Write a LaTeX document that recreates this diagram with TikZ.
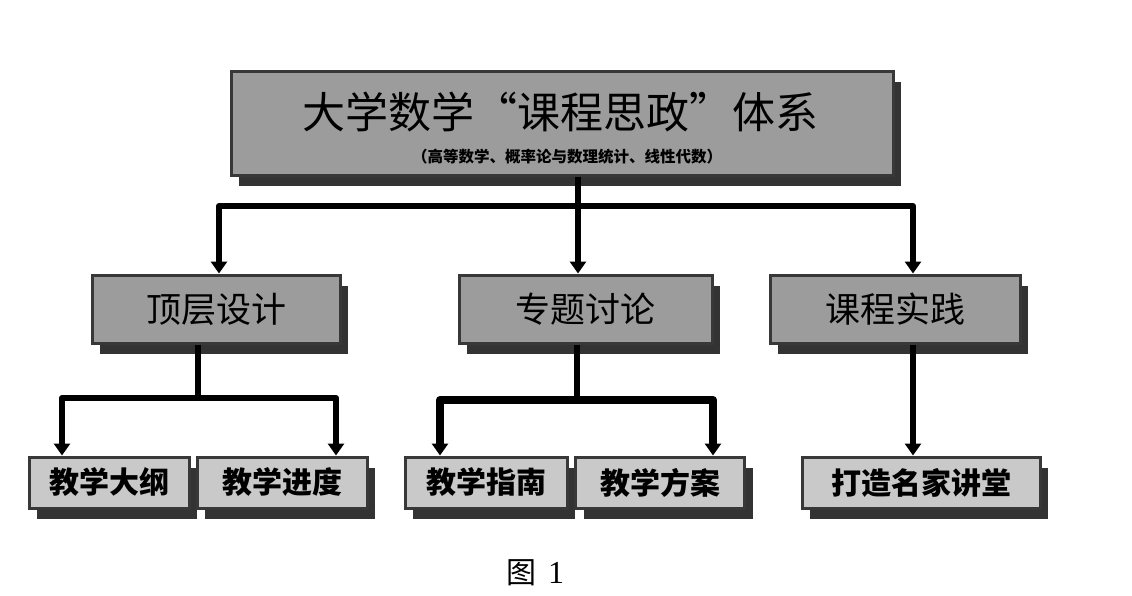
\documentclass[tikz,border=0pt]{standalone}
\usepackage{fontspec}
\setmainfont{Liberation Serif}
\newfontfamily\cjk{Noto Sans CJK SC}
\usetikzlibrary{arrows.meta,shadows}
\definecolor{bordc}{HTML}{383838}
\definecolor{shadc}{HTML}{333333}
\definecolor{fillA}{HTML}{9C9C9C}
\definecolor{fillB}{HTML}{C9C9C9}
\tikzset{
  boxbase/.style={draw=bordc, line width=3pt, inner sep=0pt, rectangle,
    drop shadow={shadow xshift=8pt, shadow yshift=-11pt, fill=shadc, opacity=1}},
  topbox/.style={boxbase, fill=fillA, minimum width=662pt, minimum height=104pt},
  midbox/.style={boxbase, fill=fillA, minimum width=250pt, minimum height=68pt,
    font=\cjk\fontsize{35}{38}\selectfont},
  lowbox/.style={boxbase, fill=fillB, minimum height=51pt,
    font=\cjk\bfseries\fontsize{30}{34}\selectfont},
  conn/.style={line width=6pt, black, line join=round},
  arr/.style={conn, -{Triangle[width=16pt,length=12pt]}},
  label/.style={inner sep=0pt}
}
\begin{document}
\begin{tikzpicture}[x=1pt,y=-1pt]
\useasboundingbox[fill=white] (0,0) rectangle (1132,595);
% top box
\node[topbox] (top) at (562,123) {};
\node[label, font=\cjk\fontsize{43}{45}\selectfont] (title) at (560,112) {大学数学“课程思政”体系};
\node[label, font=\cjk\bfseries\fontsize{15.5}{17}\selectfont] (sub) at (567,157) {（高等数学、概率论与数理统计、线性代数）};
% level 2
\node[midbox, minimum width=248pt] (l2a) at (216,309) {顶层设计};
\node[midbox, minimum width=253pt] (l2b) at (585.5,309) {专题讨论};
\node[midbox, minimum width=250pt] (l2c) at (895,309) {课程实践};
% level 3
\node[lowbox, minimum width=160pt] (l3a) at (109,482.5) {教学大纲};
\node[lowbox, minimum width=170pt] (l3b) at (282,482.5) {教学进度};
\node[lowbox, minimum width=162pt] (l3c) at (486,482.5) {教学指南};
\node[lowbox, minimum width=169pt] (l3d) at (660,482.5) {教学方案};
\node[lowbox, minimum width=238pt] (l3e) at (921,482.5) {打造名家讲堂};
% caption
\node[label, anchor=base] (cap) at (535,583) {{\cjk\fontsize{30}{32}\selectfont 图}\hspace{12pt}{\fontsize{32}{34}\selectfont 1}};
% connectors level 1 -> 2
\coordinate (j1) at (578,206);
\coordinate (a1) at (219,206);
\coordinate (a3) at (913,206);
\draw[conn] (top.south -| j1) -- (j1);
\draw[arr] (j1) -- (a1) -- (a1 |- l2a.north);
\draw[arr] (j1) -- (a3) -- (a3 |- l2c.north);
\draw[arr] (j1) -- (j1 |- l2b.north);
% level 2 -> 3
\coordinate (j2) at (198,398);
\coordinate (b1) at (62,398);
\coordinate (b2) at (336,398);
\draw[conn] (l2a.south -| j2) -- (j2);
\draw[arr] (j2) -- (b1) -- (b1 |- l3a.north);
\draw[arr] (j2) -- (b2) -- (b2 |- l3b.north);
\coordinate (j3) at (577,400);
\coordinate (c1) at (440,400);
\coordinate (c2) at (713,400);
\draw[conn] (l2b.south -| j3) -- (j3);
\draw[arr, line width=8pt] (j3) -- (c1) -- (c1 |- l3c.north);
\draw[arr, line width=8pt] (j3) -- (c2) -- (c2 |- l3d.north);
\coordinate (d1) at (913,345);
\draw[arr] (l2c.south -| d1) -- (d1 |- l3e.north);
\end{tikzpicture}
\end{document}
